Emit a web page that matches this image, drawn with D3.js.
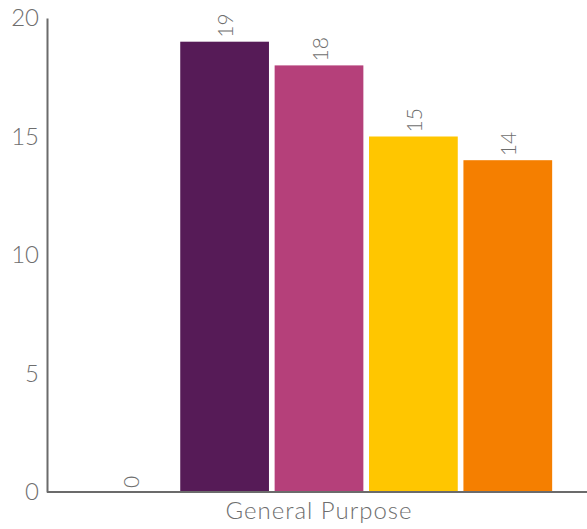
<!DOCTYPE html>
<html>
<head>
<meta charset="utf-8">
<script src="https://cdn.jsdelivr.net/npm/d3@7"></script>
<style>
body { margin: 0; background: #fff; }
text { font-family: Lato, "Open Sans", sans-serif; font-weight: 300; fill: #6e6e6e; }
</style>
</head>
<body>
<div id="chart"></div>
<script>
// data
var groups = ["General Purpose"];
var seriesNames = ["s0", "s1", "s2", "s3", "s4"];
var seriesValues = [0, 19, 18, 15, 14];
var seriesColors = ["#3b1f5a", "#561b57", "#b5407a", "#ffc600", "#f57f00"];
var yTicks = [0, 5, 10, 15, 20];

var w = 587, h = 529;
var svg = d3.select("#chart").append("svg")
  .attr("width", w)
  .attr("height", h);

var x0 = d3.scaleBand().domain(groups).range([49, 589]).paddingInner(0).paddingOuter(0.079);
var x1 = d3.scaleBand().domain(seriesNames).range([0, x0.bandwidth()]).paddingInner(0.06).paddingOuter(0);
var y = d3.scaleLinear().domain([0, 20]).range([492, 18]);

var rows = seriesNames.map(function(s, i) { return {name: s, value: seriesValues[i], color: seriesColors[i]}; });

var g = svg.append("g").attr("transform", "translate(" + x0(groups[0]) + ",0)");

g.selectAll("rect")
  .data(rows)
  .enter()
  .append("rect")
  .attr("x", d => x1(d.name))
  .attr("width", x1.bandwidth())
  .attr("y", d => y(d.value))
  .attr("height", d => y(0) - y(d.value))
  .attr("fill", d => d.color);

// value labels, all turned on their side
g.selectAll("text.val")
  .data(rows)
  .enter()
  .append("text")
  .attr("class", "val")
  .attr("font-size", 21)
  .attr("dominant-baseline", "central")
  .attr("text-anchor", "start")
  .attr("transform", function(d) {
    var cx = x1(d.name) + x1.bandwidth() / 2;
    return "translate(" + cx + "," + (y(d.value) - 4) + ") rotate(-90)";
  })
  .text(d => d.value);

// y axis
var yAxis = svg.append("g")
  .attr("transform", "translate(47,0)")
  .call(d3.axisLeft(y).tickValues(yTicks).tickSize(0).tickPadding(8));
yAxis.select(".domain").attr("stroke", "#6b6b6b").attr("stroke-width", 2);
yAxis.selectAll("text").attr("font-size", 24).style("font-family", "Lato, 'Open Sans', sans-serif").attr("fill", "#707070");

// x axis
var xAxis = svg.append("g")
  .attr("transform", "translate(0,492)")
  .call(d3.axisBottom(x0).tickSize(0).tickPadding(10).tickSizeOuter(0));
xAxis.select(".domain").attr("stroke", "#6b6b6b").attr("stroke-width", 2).attr("d", "M47,0H587");
xAxis.selectAll("text").attr("font-size", 24).attr("letter-spacing", 1).style("font-family", "Lato, 'Open Sans', sans-serif").attr("fill", "#707070");
</script>
</body>
</html>
